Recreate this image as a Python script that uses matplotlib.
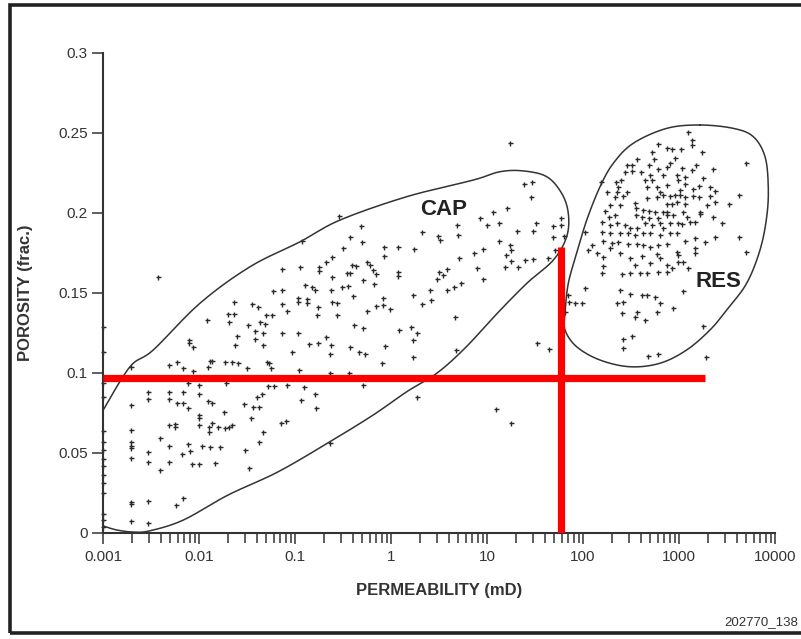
import numpy as np
import matplotlib
matplotlib.use("Agg")
import matplotlib.pyplot as plt
from matplotlib.patches import Rectangle
from matplotlib.ticker import FixedLocator, LogLocator, FuncFormatter, NullFormatter

plt.rcParams['font.family'] = ['Liberation Sans', 'DejaVu Sans']

# ----------------------------
# Data (log10 permeability in mD, porosity as fraction)
# ----------------------------
cap_log_k = [
    -2.424, -0.93, -0.542, -1.139, -0.948, -0.747, -0.747, -0.677, -0.611, -0.611,
    -1.232, -1.139, -0.896, -0.826, -0.792, -0.628, -0.965, -0.965, -0.878, -0.878,
    -0.611, -0.559, -1.139, -1.087, -1.635, -1.451, -1.382, -1.694, -1.635, -1.688,
    -1.92, -1.305, -1.236, -1.365, -1.313, -1.486, -0.757, -0.775, -0.559, -1.417,
    -1.33, -1.139, -0.965, -1.601, -1.417, -2.1, -2.1, -2.06, -1.625, -1.337,
    -0.851, -0.757, -0.677, -0.628,
    1.389, 1.465, 1.458, 1.205, 1.059, 0.927, 0.997, 1.125, 1.316, 1.476,
    1.51, 1.691, 1.768, 1.768, 1.691, 1.802, 1.708, 1.128, 1.24, 1.247,
    1.198, 0.962, 0.868, 1.396, 1.476, 1.639, 1.25, 1.32, 1.188, 0.711,
    0.892, 0.955, 0.684, 0.701, 0.493, 0.51, 0.319, 0.24, 0.076, -0.07,
    -0.07, -0.316, -0.306, -0.427, -0.497, -0.365, -0.41, -0.253, -0.219, -0.184,
    -0.156, -0.289, -0.462, -0.427, -0.514, -0.445, -0.177, 0.076, 0.076, 0.503,
    0.58, 0.545, 0.475, 0.406, 0.413, 0.319, 0.226, 0.587, 0.66, 0.726,
    -0.392, -0.087, -0.08, -0.156, -0.253, -0.01, -0.385, -0.289, 0.087, 0.205,
    0.267, 0.226, 0.667, -0.427, -0.063, 1.517, 1.644,
    -1.035, -0.635, -2.708, -2.312, -2.232, -2.164, -2.06, -1.885, -1.86, -1.903,
    -1.729, -1.66, -1.597, -1.503, -1.295, -1.27, -1.253, -0.958, -0.635, -2.111,
    -2.0, -1.722, -1.285, -1.216, -1.087, -0.907, -2.534, -2.534, -2.312, -2.312,
    -2.164, -2.233, -2.164, -2.0, -1.91, -1.869, -2.111, -2.708, -1.4, -1.341,
    -1.528, -1.434, -1.375, -0.941, -0.792, -0.785, -2.0, -2.0, -1.736, -1.458,
    -2.312, -2.25, -2.25, -2.0, -1.896, -1.86, -1.806, -1.729, -1.688, -1.66,
    -1.896, -1.146, -1.097, -1.337, -2.708, -2.406, -1.375, -2.708, -2.708, -2.708,
    -2.312, -2.119, -2.094, -2.174, -1.973, -1.885, -1.781, -1.521, -2.708, -2.534,
    -2.528, -2.312, -2.07, -2.0, -1.833, -2.406, -1.476, -0.635, -2.708, -2.708,
    -2.534, -2.243, -2.164, -2.708, -2.534,
    -0.33, -0.271, -0.097, 0.226, 0.677, -0.434, -0.289, 0.267, 1.094, 1.247,
    1.24,
]
cap_phi = [
    0.160, 0.1825, 0.198, 0.165, 0.1665, 0.1665, 0.164, 0.1696, 0.1727, 0.160,
    0.151, 0.152, 0.155, 0.1535, 0.152, 0.152, 0.1467, 0.1446, 0.146, 0.144,
    0.1446, 0.1435, 0.143, 0.139, 0.1446, 0.143, 0.141, 0.1367, 0.1367, 0.132,
    0.133, 0.136, 0.136, 0.132, 0.1306, 0.130, 0.1415, 0.136, 0.136, 0.126,
    0.125, 0.125, 0.125, 0.1233, 0.121, 0.1206, 0.1186, 0.116, 0.1175, 0.1173,
    0.118, 0.119, 0.1227, 0.1175,
    0.218, 0.2196, 0.210, 0.203, 0.2008, 0.1967, 0.1925, 0.1935, 0.189, 0.189,
    0.1935, 0.192, 0.1967, 0.1925, 0.1848, 0.1856, 0.177, 0.1827, 0.180, 0.177,
    0.174, 0.1773, 0.175, 0.1706, 0.171, 0.172, 0.170, 0.1665, 0.1665, 0.1717,
    0.1654, 0.159, 0.1925, 0.186, 0.1856, 0.183, 0.1883, 0.1775, 0.1785, 0.179,
    0.173, 0.192, 0.182, 0.185, 0.178, 0.1669, 0.1675, 0.1696, 0.1675, 0.1644,
    0.162, 0.158, 0.1623, 0.1623, 0.154, 0.1544, 0.1556, 0.163, 0.1606, 0.1633,
    0.1648, 0.161, 0.159, 0.152, 0.1456, 0.143, 0.149, 0.152, 0.1535, 0.1565,
    0.148, 0.1467, 0.1425, 0.142, 0.139, 0.140, 0.130, 0.128, 0.127, 0.1286,
    0.125, 0.1206, 0.135, 0.1165, 0.117, 0.119, 0.115,
    0.113, 0.1117, 0.1035, 0.105, 0.1067, 0.103, 0.101, 0.1075, 0.1075, 0.104,
    0.1067, 0.1067, 0.106, 0.103, 0.107, 0.106, 0.103, 0.102, 0.0998, 0.094,
    0.0925, 0.0935, 0.092, 0.092, 0.0925, 0.091, 0.0883, 0.0838, 0.088, 0.0838,
    0.088, 0.081, 0.081, 0.0867, 0.0825, 0.081, 0.078, 0.080, 0.0852, 0.0867,
    0.0804, 0.079, 0.079, 0.083, 0.0867, 0.0783, 0.074, 0.072, 0.0754, 0.072,
    0.0675, 0.068, 0.066, 0.0675, 0.066, 0.069, 0.066, 0.0654, 0.066, 0.0675,
    0.063, 0.0685, 0.070, 0.0633, 0.0644, 0.0592, 0.0571, 0.0567, 0.0546, 0.0533,
    0.0546, 0.0554, 0.0513, 0.0492, 0.0546, 0.0538, 0.054, 0.0519, 0.047, 0.0504,
    0.0442, 0.0442, 0.043, 0.043, 0.0435, 0.0394, 0.0408, 0.056, 0.0196, 0.018,
    0.020, 0.0175, 0.0217, 0.0077, 0.006,
    0.113, 0.1117, 0.106, 0.110, 0.1144, 0.0998, 0.0925, 0.0852, 0.0775, 0.069,
    0.244,
]
# samples sitting on the 0.001 mD axis
axis_phi = [0.129, 0.113, 0.094, 0.085, 0.064, 0.057, 0.052, 0.046, 0.042, 0.036,
            0.031, 0.025, 0.012, 0.008, 0.004]

res_log_k = [
    2.778, 2.715, 2.74, 2.688, 2.566, 2.455, 2.507, 2.438, 2.507, 2.604,
    2.785, 2.698, 2.396, 2.344, 2.368, 2.1875, 2.646, 2.715, 2.67, 2.774,
    2.802, 2.246, 2.35, 2.455, 2.333, 2.42, 2.663, 2.767, 2.281, 2.385,
    2.542, 2.552, 2.628, 2.69, 2.75, 2.83, 2.229, 2.333, 2.274, 2.552,
    2.611, 2.69, 2.785, 2.872, 2.195, 2.281, 2.35, 2.438, 2.49, 2.559,
    2.646, 2.715, 2.802, 2.195, 2.281, 2.385, 2.472, 2.542, 2.621, 2.698,
    2.802, 2.212, 2.02,
    3.09, 3.138, 3.138, 2.872, 2.924, 3.018, 3.236, 2.958, 3.698, 2.872,
    2.906, 3.027, 3.132, 3.177, 3.357, 2.837, 2.976, 2.993, 3.063, 3.253,
    3.211, 3.323, 3.375, 3.149, 3.063, 3.01, 2.872, 2.837, 2.906, 2.958,
    3.01, 3.063, 3.142, 3.211, 3.323, 3.628, 2.872, 2.924, 2.976, 3.063,
    3.288, 3.375, 3.524, 2.872, 2.94, 3.045, 3.08, 3.219, 3.219, 3.357,
    3.444, 2.906, 2.993, 3.027, 3.115, 3.167, 2.837, 2.906, 2.976, 3.167,
    3.375, 3.628, 3.063, 3.271,
    2.09, 2.142, 2.055, 2.205, 2.298, 2.281, 2.368, 2.472, 2.559, 2.628,
    2.698, 2.785, 2.872, 2.385, 2.49, 2.611, 2.767, 2.802, 2.205, 2.542,
    2.698, 2.195, 2.403, 2.49, 2.594, 2.663, 2.785, 2.872, 2.02, 2.385,
    2.49, 2.611, 2.67, 2.75, 2.802, 2.767, 1.847, 1.858, 1.917, 1.986,
    2.35, 2.42, 2.403, 2.559, 2.542, 2.646, 1.812, 2.42, 2.507, 2.42,
    2.68, 2.785,
    2.976, 2.993, 3.167, 3.167, 3.698, 2.872, 2.924, 2.993, 3.045, 3.097,
    3.045, 2.934, 3.253, 3.281,
]
res_phi = [
    0.243, 0.238, 0.234, 0.230, 0.234, 0.230, 0.230, 0.2258, 0.226, 0.2254,
    0.2275, 0.224, 0.2206, 0.2196, 0.2165, 0.2196, 0.2206, 0.2206, 0.2165, 0.2165,
    0.2133, 0.2133, 0.2133, 0.2133, 0.2102, 0.2108, 0.2096, 0.2102, 0.205, 0.205,
    0.206, 0.203, 0.2019, 0.2013, 0.2008, 0.2008, 0.2013, 0.1988, 0.1977, 0.1988,
    0.1977, 0.1967, 0.1967, 0.1988, 0.1946, 0.1925, 0.1935, 0.1925, 0.1904, 0.1904,
    0.1935, 0.1925, 0.1935, 0.1883, 0.1873, 0.1873, 0.1873, 0.1863, 0.1873, 0.1873,
    0.1863, 0.1825, 0.188,
    0.2504, 0.2456, 0.2425, 0.2404, 0.2398, 0.2398, 0.2383, 0.2346, 0.2311, 0.229,
    0.2311, 0.2283, 0.2269, 0.230, 0.2273, 0.224, 0.224, 0.2206, 0.2227, 0.2217,
    0.2169, 0.2165, 0.2137, 0.215, 0.218, 0.2144, 0.2175, 0.2113, 0.2108, 0.2113,
    0.2113, 0.2102, 0.2106, 0.2102, 0.2106, 0.2113, 0.2054, 0.2054, 0.2067, 0.2054,
    0.205, 0.2067, 0.2054, 0.2008, 0.1988, 0.2008, 0.1977, 0.2008, 0.1992, 0.1977,
    0.1935, 0.1935, 0.1935, 0.1929, 0.1942, 0.1946, 0.1904, 0.1873, 0.1873, 0.1842,
    0.1852, 0.1852, 0.1825, 0.1817,
    0.180, 0.1748, 0.1769, 0.1727, 0.181, 0.178, 0.182, 0.1806, 0.1806, 0.180,
    0.179, 0.180, 0.1806, 0.1748, 0.1717, 0.1731, 0.1744, 0.1717, 0.1669, 0.1675,
    0.1686, 0.1627, 0.1617, 0.1623, 0.1623, 0.1623, 0.1629, 0.1633, 0.1533, 0.152,
    0.1492, 0.1488, 0.1488, 0.1477, 0.1435, 0.1383, 0.1488, 0.1446, 0.1435, 0.1435,
    0.1435, 0.1446, 0.1373, 0.1383, 0.1352, 0.1331, 0.1383, 0.121, 0.1233, 0.1154,
    0.1106, 0.1117,
    0.1758, 0.1738, 0.178, 0.1748, 0.1758, 0.1675, 0.1654, 0.1696, 0.1696, 0.1654,
    0.151, 0.1404, 0.1294, 0.110,
]

# hand-drawn group outlines (log10 k, porosity)
cap_outline_logk = [-2.997, -2.858, -2.684, -2.51, -2.163, -1.695, -1.174, -0.635, -0.184, 0.164,
                    0.476, 0.77, 1.11, 1.414, 1.691, 1.83, 1.847, 1.778, 1.622, 1.378,
                    1.135, 0.857, 0.164, -0.531, -0.948, -1.469, -1.99, -2.476, -2.719, -2.997]
cap_outline_phi = [0.0044, 0.0019, 0.0006, 0.0014, 0.0081, 0.0238, 0.0383, 0.0571, 0.0738, 0.0883,
                   0.0998, 0.1155, 0.1375, 0.156, 0.1706, 0.1852, 0.1998, 0.2123, 0.2227, 0.2263,
                   0.2258, 0.2206, 0.2102, 0.1956, 0.182, 0.1664, 0.1436, 0.1144, 0.1039, 0.0769]
res_outline_logk = [3.219, 3.566, 3.774, 3.896, 3.93, 3.914, 3.844, 3.705, 3.497, 3.323,
                    3.08, 2.802, 2.49, 2.177, 1.934, 1.8125, 1.8125, 1.847, 1.934, 2.039,
                    2.177, 2.316, 2.524, 2.872]
res_outline_phi = [0.255, 0.2529, 0.2477, 0.2352, 0.2164, 0.1977, 0.1769, 0.1561, 0.1394, 0.1269,
                   0.1144, 0.1061, 0.1039, 0.1081, 0.1164, 0.1269, 0.1373, 0.1561, 0.1748, 0.1956,
                   0.2164, 0.2311, 0.2436, 0.2529]

# cutoffs
phi_cutoff = 0.097
k_cutoff = 59.0
phi_line_k_end = 1860.0
k_line_phi_end = 0.179

x_ticks = [0.001, 0.01, 0.1, 1, 10, 100, 1000, 10000]
y_ticks = [0, 0.05, 0.1, 0.15, 0.2, 0.25, 0.3]


def smooth(xs, ys, closed, n=16):
    # Catmull-Rom through the outline points
    p = np.column_stack([xs, ys])
    if closed:
        p = np.vstack([p[-1], p, p[0], p[1]])
    else:
        p = np.vstack([p[0], p, p[-1]])
    out = []
    t = np.linspace(0, 1, n, endpoint=False)[:, None]
    for i in range(1, len(p) - 2):
        p0, p1, p2, p3 = p[i - 1], p[i], p[i + 1], p[i + 2]
        seg = 0.5 * (2 * p1 + (-p0 + p2) * t + (2 * p0 - 5 * p1 + 4 * p2 - p3) * t ** 2
                     + (-p0 + 3 * p1 - 3 * p2 + p3) * t ** 3)
        out.append(seg)
    out.append(p[-2][None])
    return np.vstack(out)


# ----------------------------
# Plot
# ----------------------------
fig = plt.figure(figsize=(8.01, 6.39), dpi=100)
ax = fig.add_axes([103 / 801, 1 - 533 / 639, 672 / 801, 480 / 639])

ink = '#2a2a2a'
ax.plot(10 ** np.array(cap_log_k), cap_phi, '+', ms=3.6, mew=1.0, color=ink, clip_on=False)
ax.plot(np.full(len(axis_phi), 0.001), axis_phi, '+', ms=3.6, mew=1.0, color=ink, clip_on=False)
ax.plot(10 ** np.array(res_log_k), res_phi, '+', ms=3.6, mew=1.0, color=ink, clip_on=False)

cap = smooth(cap_outline_logk, cap_outline_phi, closed=False)
ax.plot(10 ** cap[:, 0], cap[:, 1], color='#333333', lw=1.1)
res = smooth(res_outline_logk, res_outline_phi, closed=True)
ax.plot(10 ** res[:, 0], res[:, 1], color='#333333', lw=1.1)

ax.plot([0.001, phi_line_k_end], [phi_cutoff, phi_cutoff], color='#ff0000', lw=5.2,
        solid_capstyle='butt', zorder=5)
ax.plot([k_cutoff, k_cutoff], [0, k_line_phi_end], color='#ff0000', lw=5.2,
        solid_capstyle='butt', zorder=5)

ax.text(3.5, 0.202, 'CAP', fontsize=16, fontweight='bold', color='#222222',
        ha='center', va='center')
ax.text(2600, 0.157, 'RES', fontsize=16, fontweight='bold', color='#222222',
        ha='center', va='center')

ax.set_xscale('log')
ax.set_xlim(0.001, 10000)
ax.set_ylim(0, 0.3)
ax.xaxis.set_major_locator(FixedLocator(x_ticks))
ax.xaxis.set_major_formatter(FuncFormatter(lambda v, pos: '%g' % v))
ax.xaxis.set_minor_locator(LogLocator(base=10, subs=np.arange(2, 10)))
ax.xaxis.set_minor_formatter(NullFormatter())
ax.yaxis.set_major_locator(FixedLocator(y_ticks))
ax.yaxis.set_major_formatter(FuncFormatter(lambda v, pos: '%g' % v))

for side in ['top', 'right']:
    ax.spines[side].set_visible(False)
for side in ['left', 'bottom']:
    ax.spines[side].set_linewidth(1.5)
    ax.spines[side].set_color('#333333')

ax.tick_params(axis='both', which='major', length=8, width=1.1, color='#333333',
               labelsize=11, labelcolor='#333333')
ax.tick_params(axis='x', which='minor', length=7, width=1.1, color='#333333')
ax.tick_params(axis='x', which='major', pad=4)
ax.tick_params(axis='y', which='major', pad=3)

ax.set_xlabel('PERMEABILITY (mD)', fontsize=12, fontweight='bold', color='#333333')
ax.set_ylabel('POROSITY (frac.)', fontsize=12, fontweight='bold', color='#333333')
ax.xaxis.set_label_coords(0.5, -0.104)
ax.yaxis.set_label_coords(-0.104, 0.5)

# outer frame and figure number
fig.patches.append(Rectangle((10 / 801, 6 / 639), 1.0, 628 / 639, transform=fig.transFigure,
                             fill=False, lw=2.6, edgecolor='#222222', clip_on=False))
fig.text(798 / 801, 1 - 622 / 639, '202770_138', fontsize=9.5, color='#333333',
         ha='right', va='center')

fig.savefig('out.png', dpi=100)
